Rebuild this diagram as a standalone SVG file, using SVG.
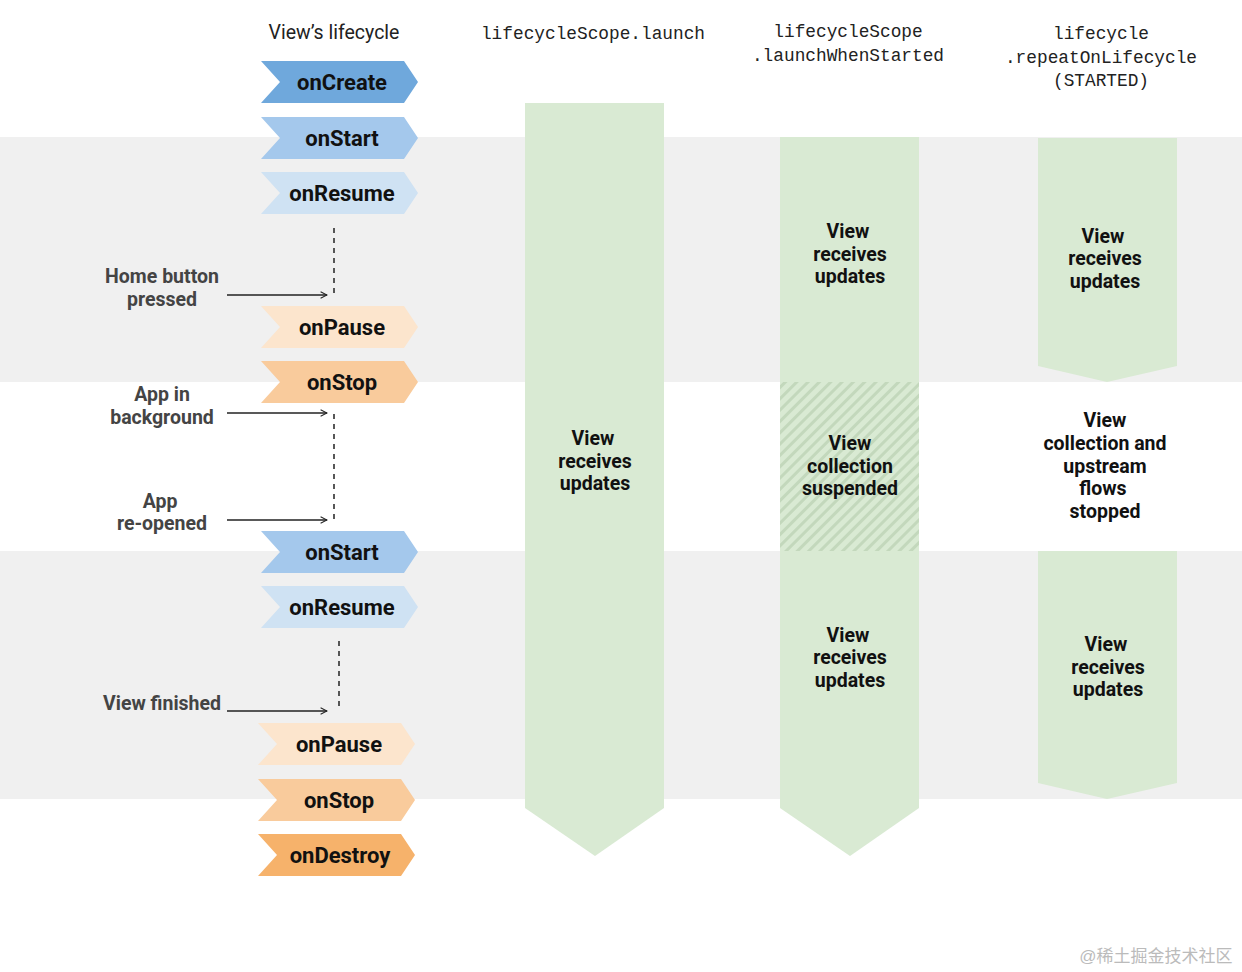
<svg xmlns="http://www.w3.org/2000/svg" width="1242" height="972" viewBox="0 0 1242 972">
<defs>
<style>
.t{font-family:Roboto,"Liberation Sans",sans-serif;font-weight:bold;text-anchor:middle}
.ev{font-size:22px;fill:#111}
.lb{font-size:19.5px;fill:#444}
.col{font-size:19.5px;fill:#111}
.hd{font-family:"Liberation Mono","DejaVu Sans Mono",monospace;font-size:17.8px;fill:#222;text-anchor:middle}
.hv{font-family:Roboto,"Liberation Sans",sans-serif;font-size:19.5px;fill:#222;text-anchor:middle}
.g{fill:#d9ead3}
.dash{stroke:#222;stroke-width:1.5;stroke-dasharray:5,5;fill:none}
.arr{stroke:#222;stroke-width:1.3;fill:none;marker-end:url(#ah)}
</style>
<marker id="ah" viewBox="0 0 10 10" refX="9" refY="5" markerWidth="8" markerHeight="8" orient="auto" markerUnits="userSpaceOnUse">
<path d="M1,1 L9,5 L1,9" fill="none" stroke="#222" stroke-width="1.3"/>
</marker>
<pattern id="hatch" width="8" height="8" patternUnits="userSpaceOnUse" patternTransform="rotate(45)">
<rect width="8" height="8" fill="#d9ead3"/>
<rect width="3" height="8" fill="#c3d8bc"/>
</pattern>
<path id="chev" d="M0,0 H143 L157,21 L143,42 H0 L19,21 Z"/>
</defs>
<rect width="1242" height="972" fill="#fff"/>
<g id="bands">
<rect x="0" y="137" width="1242" height="245" fill="#f0f0f0"/>
<rect x="0" y="551" width="1242" height="248" fill="#f0f0f0"/>
</g>
<g id="headers">
<text class="hv" x="334" y="39">View’s lifecycle</text>
<text class="hd" x="593" y="39">lifecycleScope.launch</text>
<text class="hd" x="848" y="37">lifecycleScope</text>
<text class="hd" x="848" y="61">.launchWhenStarted</text>
<text class="hd" x="1101" y="39">lifecycle</text>
<text class="hd" x="1101" y="63">.repeatOnLifecycle</text>
<text class="hd" x="1101" y="86">(STARTED)</text>
</g>
<g id="col-launch">
<path class="g" d="M525,103 H664 V808 L595,856 L525,808 Z"/>
<text class="t col" x="593" y="445">View</text>
<text class="t col" x="595" y="468">receives</text>
<text class="t col" x="595" y="490">updates</text>
</g>
<g id="col-whenstarted">
<path class="g" d="M780,137 H919 V808 L850,856 L780,808 Z"/>
<rect x="780" y="382" width="139" height="169" fill="url(#hatch)"/>
<text class="t col" x="848" y="238">View</text>
<text class="t col" x="850" y="261">receives</text>
<text class="t col" x="850" y="283">updates</text>
<text class="t col" x="850" y="450">View</text>
<text class="t col" x="850" y="473">collection</text>
<text class="t col" x="850" y="495">suspended</text>
<text class="t col" x="848" y="642">View</text>
<text class="t col" x="850" y="664">receives</text>
<text class="t col" x="850" y="687">updates</text>
</g>
<g id="col-repeat">
<path class="g" d="M1038,138 H1177 V366 L1107,382 L1038,366 Z"/>
<path class="g" d="M1038,551 H1177 V783 L1107,799 L1038,783 Z"/>
<text class="t col" x="1103" y="243">View</text>
<text class="t col" x="1105" y="265">receives</text>
<text class="t col" x="1105" y="288">updates</text>
<text class="t col" x="1105" y="427">View</text>
<text class="t col" x="1105" y="450">collection and</text>
<text class="t col" x="1105" y="473">upstream</text>
<text class="t col" x="1103" y="495">flows</text>
<text class="t col" x="1105" y="518">stopped</text>
<text class="t col" x="1106" y="651">View</text>
<text class="t col" x="1108" y="674">receives</text>
<text class="t col" x="1108" y="696">updates</text>
</g>
<g id="ev-oncreate"><use href="#chev" x="261" y="61" fill="#6fa8dc"/><text class="t ev" x="342" y="90">onCreate</text></g>
<g id="ev-onstart1"><use href="#chev" x="261" y="117" fill="#a4c8ec"/><text class="t ev" x="342" y="146">onStart</text></g>
<g id="ev-onresume1"><use href="#chev" x="261" y="172" fill="#cfe2f3"/><text class="t ev" x="342" y="201">onResume</text></g>
<g id="ev-onpause1"><use href="#chev" x="261" y="306" fill="#fce5cd"/><text class="t ev" x="342" y="335">onPause</text></g>
<g id="ev-onstop1"><use href="#chev" x="261" y="361" fill="#f9cb9c"/><text class="t ev" x="342" y="390">onStop</text></g>
<g id="ev-onstart2"><use href="#chev" x="261" y="531" fill="#a4c8ec"/><text class="t ev" x="342" y="560">onStart</text></g>
<g id="ev-onresume2"><use href="#chev" x="261" y="586" fill="#cfe2f3"/><text class="t ev" x="342" y="615">onResume</text></g>
<g id="ev-onpause2"><use href="#chev" x="258" y="723" fill="#fce5cd"/><text class="t ev" x="339" y="752">onPause</text></g>
<g id="ev-onstop2"><use href="#chev" x="258" y="779" fill="#f9cb9c"/><text class="t ev" x="339" y="808">onStop</text></g>
<g id="ev-ondestroy"><use href="#chev" x="258" y="834" fill="#f6b26b"/><text class="t ev" x="340" y="863">onDestroy</text></g>
<g id="labels">
<text class="t lb" x="162" y="283">Home button</text>
<text class="t lb" x="162" y="306">pressed</text>
<text class="t lb" x="162" y="401">App in</text>
<text class="t lb" x="162" y="424">background</text>
<text class="t lb" x="160" y="508">App</text>
<text class="t lb" x="162" y="530">re-opened</text>
<text class="t lb" x="162" y="710">View finished</text>
</g>
<g id="connectors">
<line class="dash" x1="334" y1="228" x2="334" y2="296"/>
<line class="dash" x1="334" y1="414" x2="334" y2="520"/>
<line class="dash" x1="339" y1="641" x2="339" y2="711"/>
<line class="arr" x1="227" y1="295" x2="327" y2="295"/>
<line class="arr" x1="227" y1="413" x2="327" y2="413"/>
<line class="arr" x1="227" y1="520" x2="327" y2="520"/>
<line class="arr" x1="227" y1="711" x2="327" y2="711"/>
</g>
<text x="1156" y="962" style="font-family:'Liberation Sans','Noto Sans CJK SC',sans-serif;font-size:17px;fill:#bbb;text-anchor:middle">@稀土掘金技术社区</text>
</svg>
